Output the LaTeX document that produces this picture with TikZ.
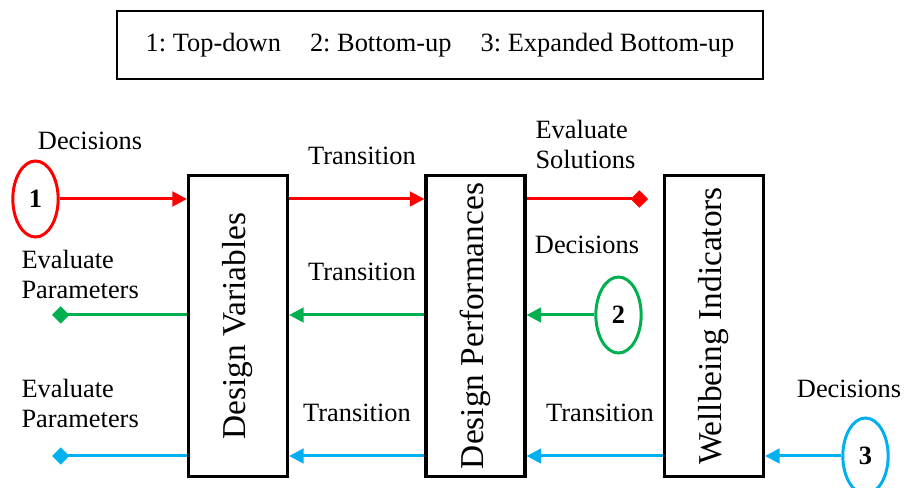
\documentclass[tikz,border=0pt]{standalone}
\usepackage{fontspec}
\setmainfont{Liberation Serif}
\usepackage{graphicx}
\usetikzlibrary{arrows.meta,shapes.geometric}

\definecolor{flowred}{RGB}{255,0,0}
\definecolor{flowgreen}{RGB}{0,176,80}
\definecolor{flowblue}{RGB}{0,176,240}

\tikzset{every picture/.style={line width=0.75pt}}
\frenchspacing

\begin{document}
\begin{tikzpicture}[x=0.75pt,y=0.75pt,yscale=-1,xscale=1,
	lbl/.style={font=\fontsize{19.8}{22.5}\selectfont, inner sep=0pt},
	stage/.style={draw, line width=2.6pt, minimum width=74pt, minimum height=226pt, inner sep=0pt, font=\fontsize{25}{28}\selectfont},
	num/.style={ellipse, line width=2.25pt, minimum width=34pt, minimum height=57pt, inner sep=0pt, font=\bfseries\fontsize{19.8}{22}\selectfont},
	flow/.style={line width=2.25pt, -{Triangle[length=11pt,width=11pt]}},
	ends/.style={line width=2.25pt, -{Diamond[length=13pt,width=13pt]}}]
	\path[use as bounding box] (0,0) rectangle (904,488);

	% Legend
	\node[draw, line width=1.3pt, minimum width=485pt, minimum height=51pt, lbl] (legend) at (440,45) {1: Top-down\hspace{1.1em}2: Bottom-up\hspace{1.1em}3: Expanded Bottom-up};

	% Stages
	\node[stage] (dv) at (238,326) {\rotatebox{90}{Design Variables}};
	\node[stage] (dp) at (475.5,326) {\rotatebox{90}{Design Performances}};
	\node[stage] (wi) at (714,326) {\rotatebox{90}{Wellbeing Indicators}};

	% Numbered ellipses
	\node[num, draw=flowred] (n1) at (35.5,199) {1};
	\node[num, draw=flowgreen] (n2) at (618.5,315) {2};
	\node[num, draw=flowblue] (n3) at (865.5,456) {3};

	% Free ends
	\coordinate (sol) at (648,199);
	\coordinate (par2) at (52,315);
	\coordinate (par3) at (52,456);

	% Top-down (red)
	\draw[flow, flowred] (n1.east) -- (n1.east -| dv.west);
	\draw[flow, flowred] (dv.east |- n1) -- (dp.west |- n1);
	\draw[ends, flowred] (dp.east |- n1) -- (sol);

	% Bottom-up (green)
	\draw[flow, flowgreen] (n2.west) -- (n2.west -| dp.east);
	\draw[flow, flowgreen] (dp.west |- n2) -- (dv.east |- n2);
	\draw[ends, flowgreen] (dv.west |- n2) -- (par2);

	% Expanded bottom-up (blue)
	\draw[flow, flowblue] (n3.west) -- (n3.west -| wi.east);
	\draw[flow, flowblue] (wi.west |- n3) -- (dp.east |- n3);
	\draw[flow, flowblue] (dp.west |- n3) -- (dv.east |- n3);
	\draw[ends, flowblue] (dv.west |- n3) -- (par3);

	% Text Node
	\node[lbl] (dec1) at (90,141) {Decisions};
	\node[lbl, align=left, anchor=west] (evp2) at (21,274) {Evaluate\\Parameters};
	\node[lbl, align=left, anchor=west] (evp3) at (21,403) {Evaluate\\Parameters};
	\node[lbl] (tr1) at (362,156) {Transition};
	\node[lbl] (tr2) at (362,272) {Transition};
	\node[lbl] (tr3) at (357,413) {Transition};
	\node[lbl, align=left, anchor=west] (evs) at (535,144) {Evaluate\\Solutions};
	\node[lbl] (dec2) at (587,245) {Decisions};
	\node[lbl] (tr4) at (600,413) {Transition};
	\node[lbl] (dec3) at (849,389) {Decisions};
\end{tikzpicture}
\end{document}
